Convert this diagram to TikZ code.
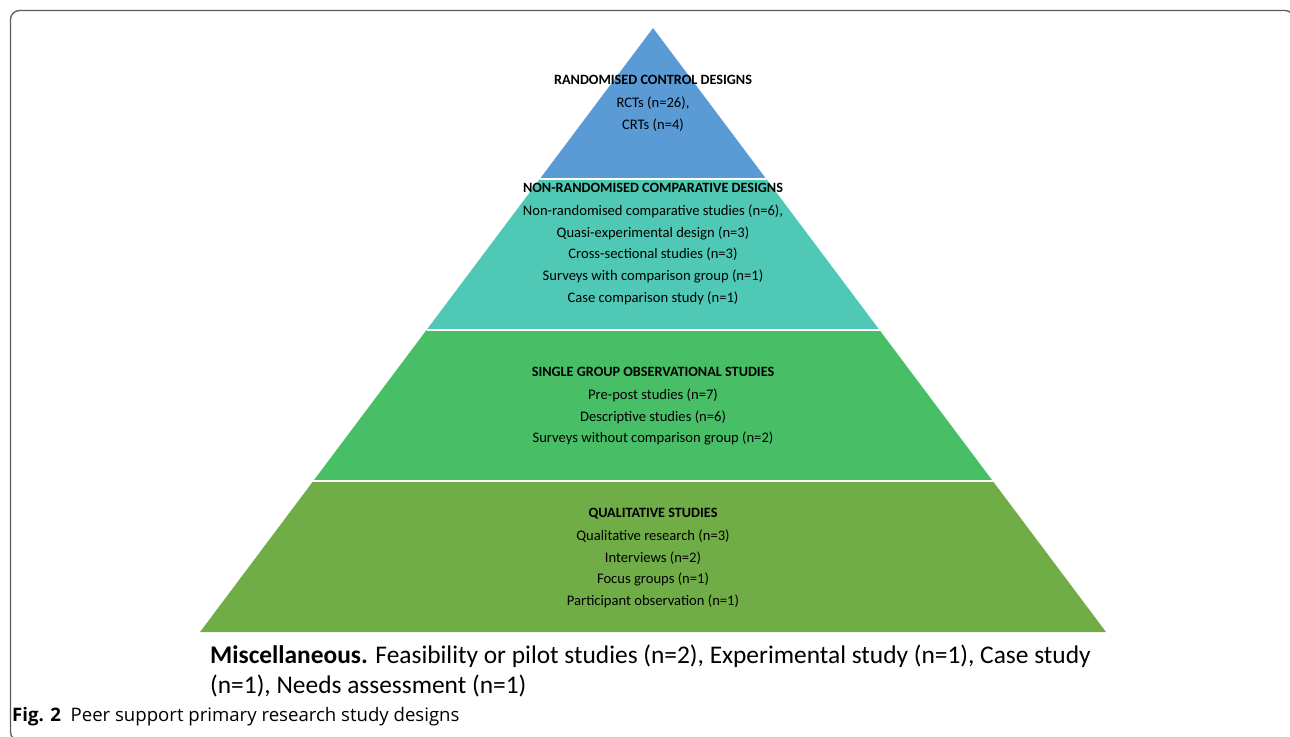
\documentclass[tikz,border=0pt]{standalone}
\usepackage{fontspec}
\setmainfont{Carlito}
\newfontfamily\capfont{Open Sans}
\usetikzlibrary{calc}

\definecolor{tierblue}{HTML}{5B9BD5}
\definecolor{tierteal}{HTML}{4FC9B5}
\definecolor{tiergreen}{HTML}{48BF66}
\definecolor{tierolive}{HTML}{70AD47}
\definecolor{framegray}{HTML}{5A5A5A}

\tikzset{
  tier/.style={draw=white, line width=2pt},
  tiertext/.style={align=center, inner sep=0pt, anchor=north,
    font=\fontsize{14.6}{21.7}\selectfont},
}
\newcommand{\tierhead}[1]{{\fontsize{14.2}{21.7}\selectfont\textbf{#1}}}

\begin{document}
\begin{tikzpicture}[x=1pt,y=-1pt]
\clip (0,0) rectangle (1290,736);
\draw[framegray, line width=1.3pt, rounded corners=9pt] (10.5,10.5) rectangle (1294,741);

% pyramid corners
\coordinate (apex) at (653,28);
\coordinate (bl) at (200,632);
\coordinate (br) at (1106,632);
\coordinate (l1) at ($(apex)!0.25!(bl)$);
\coordinate (r1) at ($(apex)!0.25!(br)$);
\coordinate (l2) at ($(apex)!0.5!(bl)$);
\coordinate (r2) at ($(apex)!0.5!(br)$);
\coordinate (l3) at ($(apex)!0.75!(bl)$);
\coordinate (r3) at ($(apex)!0.75!(br)$);

% tiers
\fill[tierblue] (apex) -- (r1) -- (l1) -- cycle;
\fill[tierteal] (l1) -- (r1) -- (r2) -- (l2) -- cycle;
\fill[tiergreen] (l2) -- (r2) -- (r3) -- (l3) -- cycle;
\fill[tierolive] (l3) -- (r3) -- (br) -- (bl) -- cycle;
\draw[tier] (l1) -- (r1);
\draw[tier] (l2) -- (r2);
\draw[tier] (l3) -- (r3);

\node[tiertext] (rct) at (653,75) {\tierhead{RANDOMISED CONTROL DESIGNS}\\[1.3pt]
  RCTs (n=26),\\ CRTs (n=4)};
\node[tiertext] (nrc) at (653,183) {\tierhead{NON-RANDOMISED COMPARATIVE DESIGNS}\\[1.3pt]
  Non-randomised comparative studies (n=6),\\ Quasi-experimental design (n=3)\\
  Cross-sectional studies (n=3)\\ Surveys with comparison group (n=1)\\
  Case comparison study (n=1)};
\node[tiertext] (sgo) at (653,367) {\tierhead{SINGLE GROUP OBSERVATIONAL STUDIES}\\[1.3pt]
  Pre-post studies (n=7)\\ Descriptive studies (n=6)\\
  Surveys without comparison group (n=2)};
\node[tiertext] (qual) at (653,508) {\tierhead{QUALITATIVE STUDIES}\\[1.3pt]
  Qualitative research (n=3)\\ Interviews (n=2)\\ Focus groups (n=1)\\
  Participant observation (n=1)};

\node[anchor=north west, inner sep=0pt, align=left, font=\fontsize{25.4}{30}\selectfont]
  (misc) at (210,645) {\textbf{Miscellaneous.} Feasibility or pilot studies (n=2), Experimental study (n=1), Case study\\
  (n=1), Needs assessment (n=1)};
\node[anchor=west, inner sep=0pt, font=\capfont\fontsize{18.6}{20}\selectfont]
  (cap) at (12,717) {\textbf{Fig. 2}\ \ Peer support primary research study designs};
\end{tikzpicture}
\end{document}
